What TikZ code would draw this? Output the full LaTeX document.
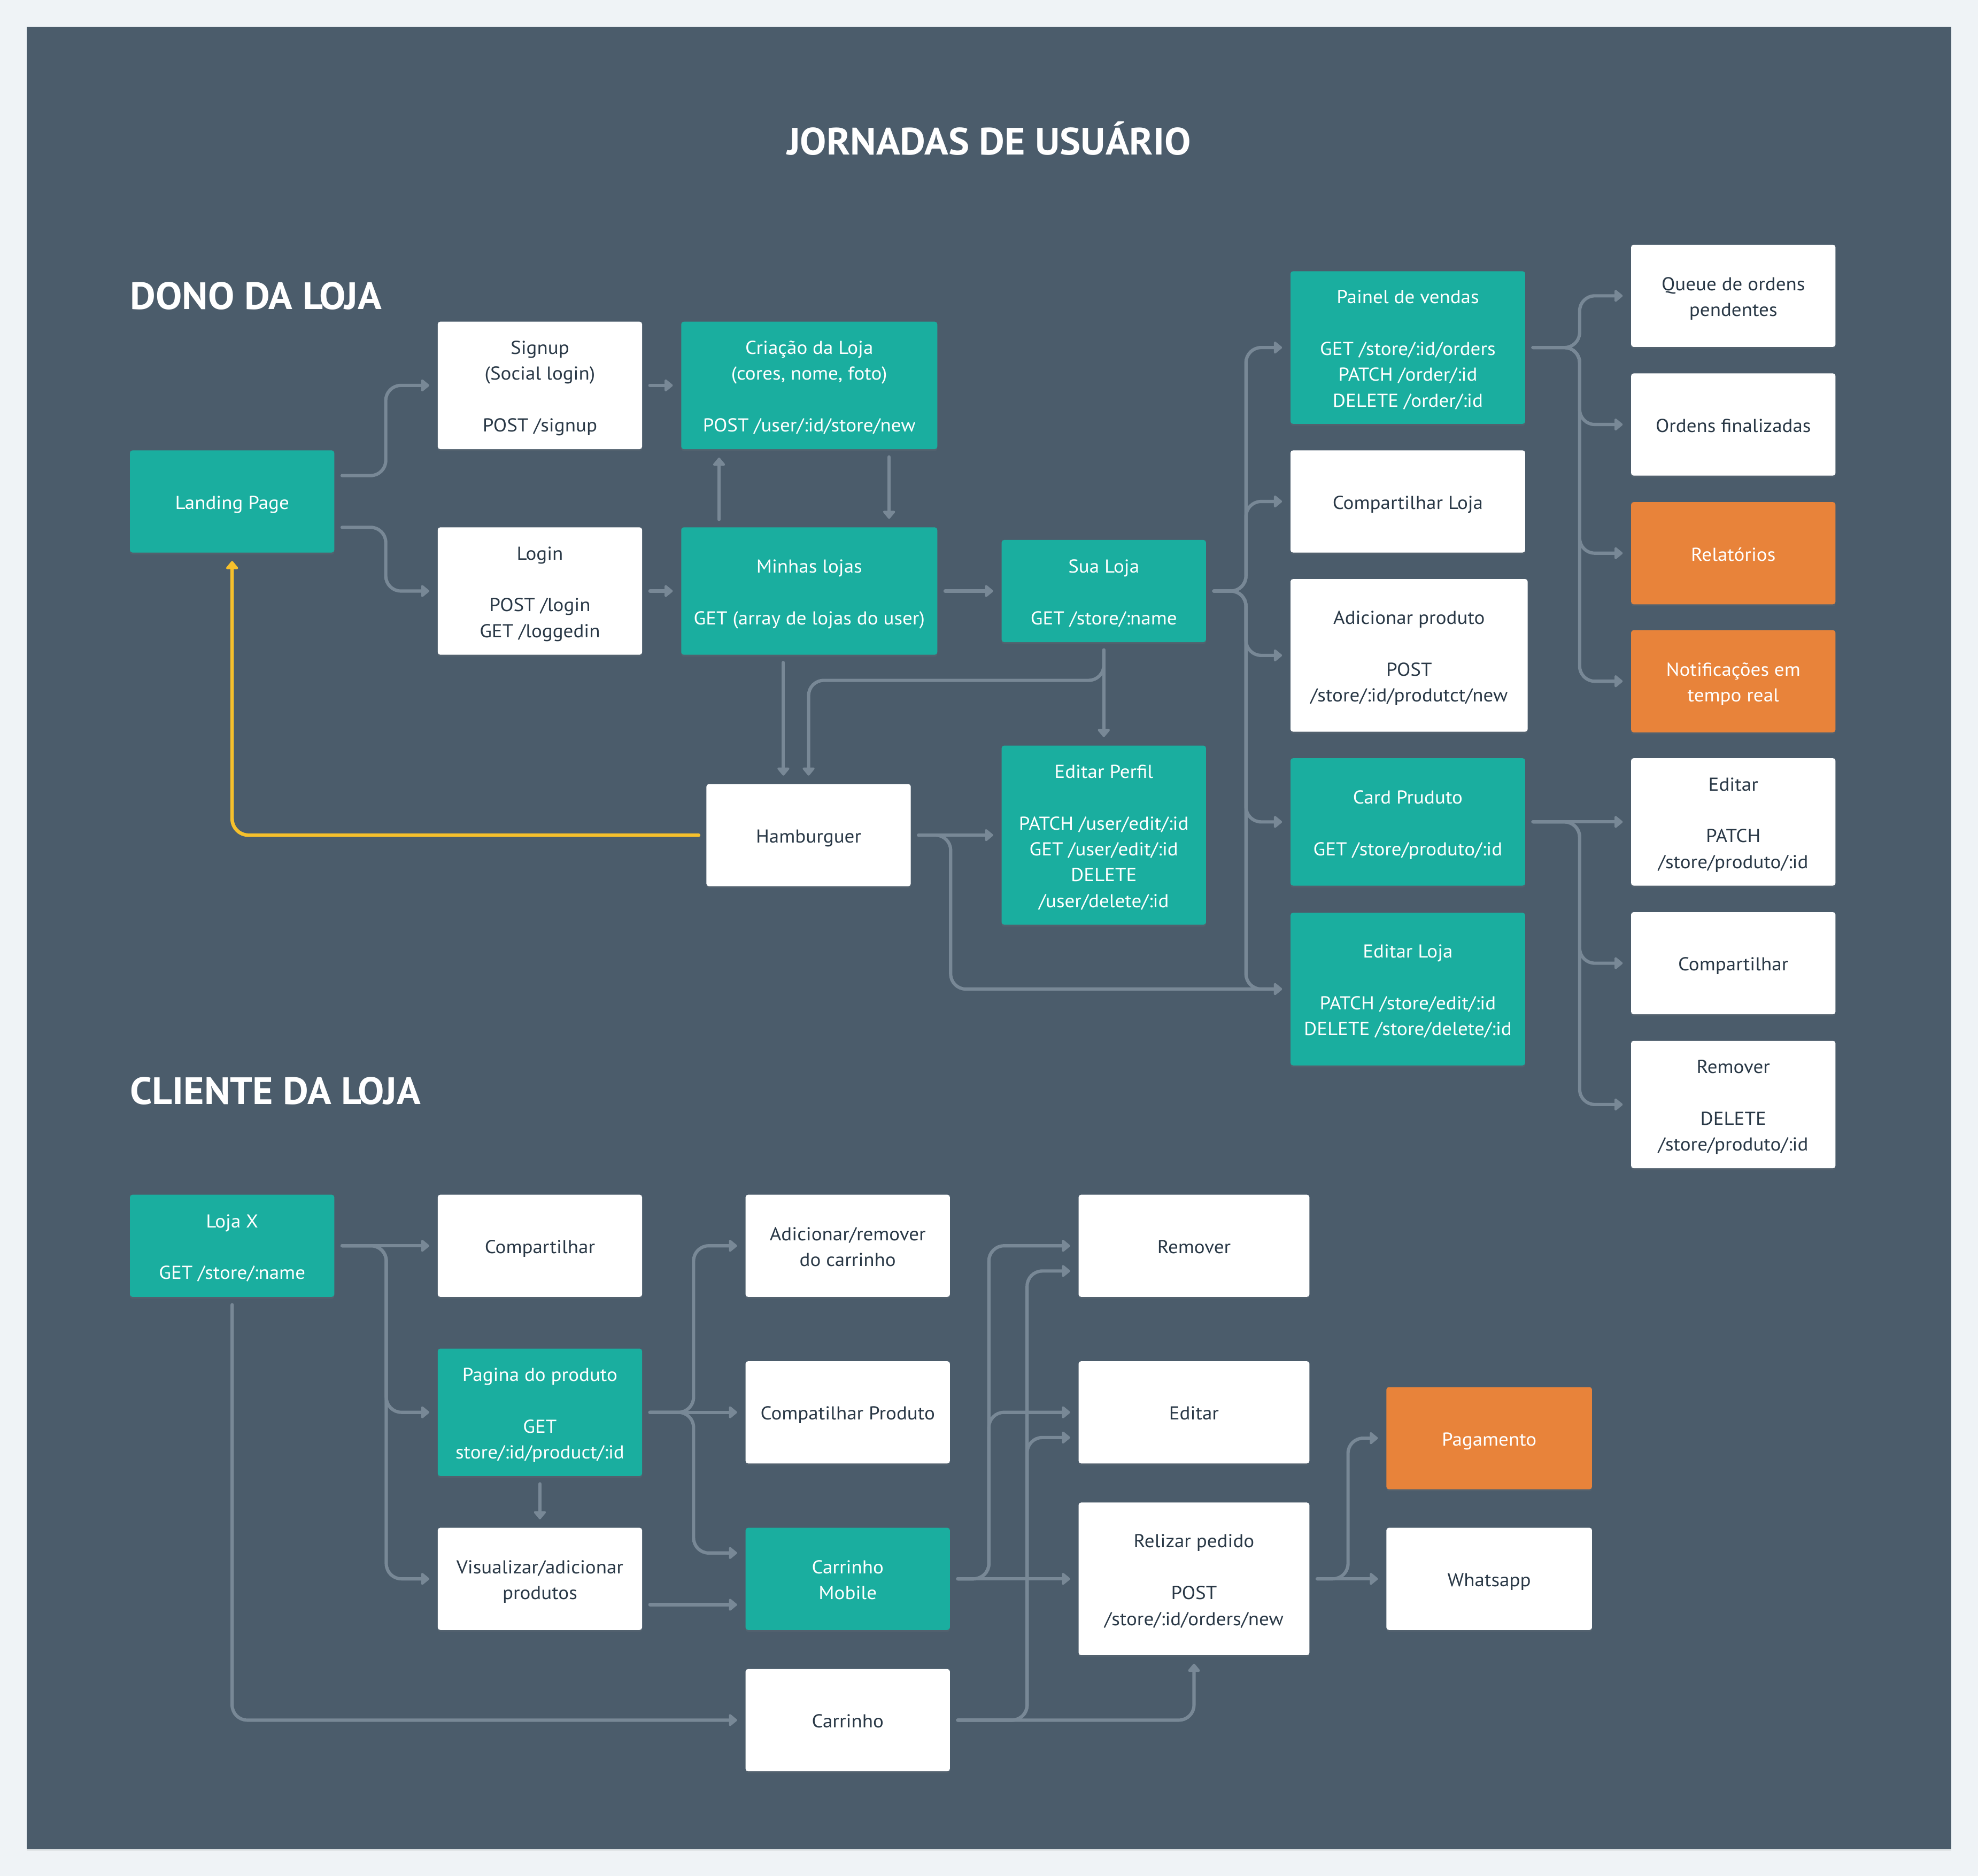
\documentclass[tikz,border=0pt]{standalone}
\usepackage{fontspec}
\setmainfont{PT Sans}[FakeStretch=1.06]
\newfontfamily\headfont{PT Sans Bold}[FakeStretch=1.035]
\usetikzlibrary{arrows.meta,calc,shadows}
\definecolor{outerbg}{HTML}{EFF3F6}
\definecolor{panelbg}{HTML}{4B5C6B}
\definecolor{tealbox}{HTML}{1AAE9F}
\definecolor{orangebox}{HTML}{E8833A}
\definecolor{linec}{HTML}{788896}
\definecolor{txtdark}{HTML}{293846}
\definecolor{yel}{HTML}{F6C02C}
\newcommand\bxstrut{\vrule height 16.3pt depth 4.2pt width 0pt}
\newcommand\mlines[1]{\bxstrut#1\bxstrut}
\tikzset{
  box/.style={rectangle, rounded corners=2pt, minimum width=162pt, minimum height=81pt,
    inner sep=0pt, align=center, font=\fontsize{14.8}{20.5}\selectfont,
    execute at begin node=\bxstrut, execute at end node=\bxstrut,
    drop shadow={shadow xshift=0pt, shadow yshift=-1.5pt, opacity=0.15}},
  wbox/.style={box, fill=white, text=txtdark},
  gbox/.style={box, fill=tealbox, text=white},
  obox/.style={box, fill=orangebox, text=white},
  conn/.style={draw=linec, line width=2.6pt, rounded corners=12pt, line cap=round,
    shorten <=6pt, shorten >=6.5pt, -{Triangle[length=7pt,width=11pt,round]}},
  yconn/.style={draw=yel, line width=2.8pt, rounded corners=13pt, line cap=round,
    shorten <=6pt, shorten >=6.5pt, -{Triangle[length=7pt,width=11pt,round]}},
  head/.style={font=\headfont\fontsize{30.2}{34}\selectfont, text=white, inner sep=0pt}
}
\begin{document}
\begin{tikzpicture}[x=1pt, y=-1pt]
\useasboundingbox (0,0) rectangle (1568,1487);
\fill[outerbg] (0,0) rectangle (1568,1487);
\fill[panelbg, drop shadow={shadow xshift=0pt, shadow yshift=-1pt, opacity=0.12}] (21,21) rectangle (1547,1466);

\node[head, anchor=base] (title) at (784,122.9) {JORNADAS DE USUÁRIO};
\node[head, anchor=base west] (dono) at (103,245.2) {DONO DA LOJA};
\node[head, anchor=base west] (cliente) at (103,875.5) {CLIENTE DA LOJA};

% ---------- DONO DA LOJA ----------
\node[gbox] (landing) at (184,397.5) {Landing Page};
\node[wbox, minimum height=101pt] (signup) at (428,305.5) {\bxstrut Signup\\(Social login)\\\mbox{}\\POST /signup\bxstrut};
\node[wbox, minimum height=101pt] (login) at (428,468.5) {\bxstrut Login\\\mbox{}\\POST /login\\GET /loggedin\bxstrut};
\node[gbox, minimum width=203pt, minimum height=101pt] (criacao) at (641.5,305.5) {\bxstrut Criação da Loja\\(cores, nome, foto)\\\mbox{}\\POST /user/:id/store/new\bxstrut};
\node[gbox, minimum width=203pt, minimum height=101pt] (minhas) at (641.5,468.5) {\bxstrut Minhas lojas\\\mbox{}\\GET (array de lojas do user)\bxstrut};
\node[gbox] (sualoja) at (875,468.5) {\bxstrut Sua Loja\\\mbox{}\\GET /store/:name\bxstrut};
\node[wbox] (hamb) at (641,662) {Hamburguer};
\node[gbox, minimum height=142pt] (perfil) at (875,662) {\bxstrut Editar Perfil\\\mbox{}\\PATCH /user/edit/:id\\GET /user/edit/:id\\DELETE\\/user/delete/:id\bxstrut};
\node[gbox, minimum width=186pt, minimum height=121pt] (painel) at (1116,275.5) {\bxstrut Painel de vendas\\\mbox{}\\GET /store/:id/orders\\PATCH /order/:id\\DELETE /order/:id\bxstrut};
\node[wbox, minimum width=186pt] (compLoja) at (1116,397.5) {Compartilhar Loja};
\node[wbox, minimum width=188pt, minimum height=121pt] (addProd) at (1117,519.5) {\bxstrut Adicionar produto\\\mbox{}\\POST\\/store/:id/produtct/new\bxstrut};
\node[gbox, minimum width=186pt, minimum height=101pt] (card) at (1116,651.5) {\bxstrut Card Pruduto\\\mbox{}\\GET /store/produto/:id\bxstrut};
\node[gbox, minimum width=186pt, minimum height=121pt] (editLoja) at (1116,784) {\bxstrut Editar Loja\\\mbox{}\\PATCH /store/edit/:id\\DELETE /store/delete/:id\bxstrut};
\node[wbox] (queue) at (1374,234.5) {\bxstrut Queue de ordens\\pendentes\bxstrut};
\node[wbox] (ordens) at (1374,336.5) {Ordens finalizadas};
\node[obox] (relat) at (1374,438.5) {Relatórios};
\node[obox] (notif) at (1374,540) {\bxstrut Notificações em\\tempo real\bxstrut};
\node[wbox, minimum height=101pt] (editar) at (1374,651.5) {\bxstrut Editar\\\mbox{}\\PATCH\\/store/produto/:id\bxstrut};
\node[wbox] (compart) at (1374,763.5) {Compartilhar};
\node[wbox, minimum height=101pt] (remover) at (1374,875.5) {\bxstrut Remover\\\mbox{}\\DELETE\\/store/produto/:id\bxstrut};

% ---------- CLIENTE DA LOJA ----------
\node[gbox] (lojax) at (184,987.5) {\bxstrut Loja X\\\mbox{}\\GET /store/:name\bxstrut};
\node[wbox] (ccomp) at (428,987.5) {Compartilhar};
\node[gbox, minimum height=101pt] (pagina) at (428,1119.5) {\bxstrut Pagina do produto\\\mbox{}\\GET\\store/:id/product/:id\bxstrut};
\node[wbox] (visual) at (428,1251.5) {\bxstrut Visualizar/adicionar\\produtos\bxstrut};
\node[wbox] (addrem) at (672,987.5) {\bxstrut Adicionar/remover\\do carrinho\bxstrut};
\node[wbox] (compprod) at (672,1119.5) {Compatilhar Produto};
\node[gbox] (cmobile) at (672,1251.5) {\bxstrut Carrinho\\Mobile\bxstrut};
\node[wbox] (carrinho) at (672,1363.5) {Carrinho};
\node[wbox, minimum width=183pt] (cremover) at (946.5,987.5) {Remover};
\node[wbox, minimum width=183pt] (ceditar) at (946.5,1119.5) {Editar};
\node[wbox, minimum width=183pt, minimum height=121pt] (relizar) at (946.5,1251.5) {\bxstrut Relizar pedido\\\mbox{}\\POST\\/store/:id/orders/new\bxstrut};
\node[obox, minimum width=163pt] (pagamento) at (1180.5,1140) {Pagamento};
\node[wbox, minimum width=163pt] (whats) at (1180.5,1251.5) {Whatsapp};

% ---------- connectors: dono ----------
\draw[conn] ($(landing.east)+(0,-20.5)$) -| ($(signup.west)+(-41,0)$) -- (signup.west);
\draw[conn] ($(landing.east)+(0,20.5)$) -| ($(login.west)+(-41,0)$) -- (login.west);
\draw[conn] (signup.east) -- (criacao.west);
\draw[conn] (login.east) -- (minhas.west);
\draw[conn] ($(minhas.north)+(-71.5,0)$) -- ($(criacao.south)+(-71.5,0)$);
\draw[conn] ($(criacao.south)+(63.3,0)$) -- ($(minhas.north)+(63.3,0)$);
\draw[conn] (minhas.east) -- (sualoja.west);
\draw[conn] ($(minhas.south)+(-20.5,0)$) -- ($(hamb.north)+(-20,0)$);
\draw[conn] (sualoja.south) -- (perfil.north);
\draw[conn] (sualoja.south) |- ($(hamb.north)+(0,-82)$) -- (hamb.north);
\draw[conn] (hamb.east) -- (perfil.west);
\draw[conn] (hamb.east) -- ++(31.4,0) |- (editLoja.west);
\foreach \t in {painel,compLoja,addProd,card,editLoja}
  \draw[conn] (sualoja.east) -- ++(31.5,0) |- (\t.west);
\foreach \t in {queue,ordens,relat,notif}
  \draw[conn] (painel.east) -- ++(43,0) |- (\t.west);
\draw[conn] (card.east) -- (editar.west);
\foreach \t in {compart,remover}
  \draw[conn] (card.east) -- ++(43,0) |- (\t.west);
\draw[yconn] (hamb.west) -| (landing.south);

% ---------- connectors: cliente ----------
\draw[conn] (lojax.east) -- (ccomp.west);
\foreach \t in {pagina,visual}
  \draw[conn] (lojax.east) -- ++(41,0) |- (\t.west);
\draw[conn] (lojax.south) |- (carrinho.west);
\draw[conn] (pagina.south) -- (visual.north);
\draw[conn] (pagina.east) -- (compprod.west);
\draw[conn] (pagina.east) -- ++(40.6,0) |- (addrem.west);
\draw[conn] (pagina.east) -- ++(40.6,0) |- ($(cmobile.west)+(0,-20.5)$);
\draw[conn] ($(visual.east)+(0,20.5)$) -- ($(cmobile.west)+(0,20.5)$);
\draw[conn] (cmobile.east) -- (relizar.west);
\foreach \t in {cremover,ceditar}
  \draw[conn] (cmobile.east) -- ++(30.7,0) |- (\t.west);
\foreach \t in {cremover,ceditar}
  \draw[conn] (carrinho.east) -- ++(61,0) |- ($(\t.west)+(0,20)$);
\draw[conn] (carrinho.east) -| (relizar.south);
\draw[conn] (relizar.east) -- (whats.west);
\draw[conn] (relizar.east) -- ++(30.4,0) |- (pagamento.west);
\end{tikzpicture}
\end{document}
